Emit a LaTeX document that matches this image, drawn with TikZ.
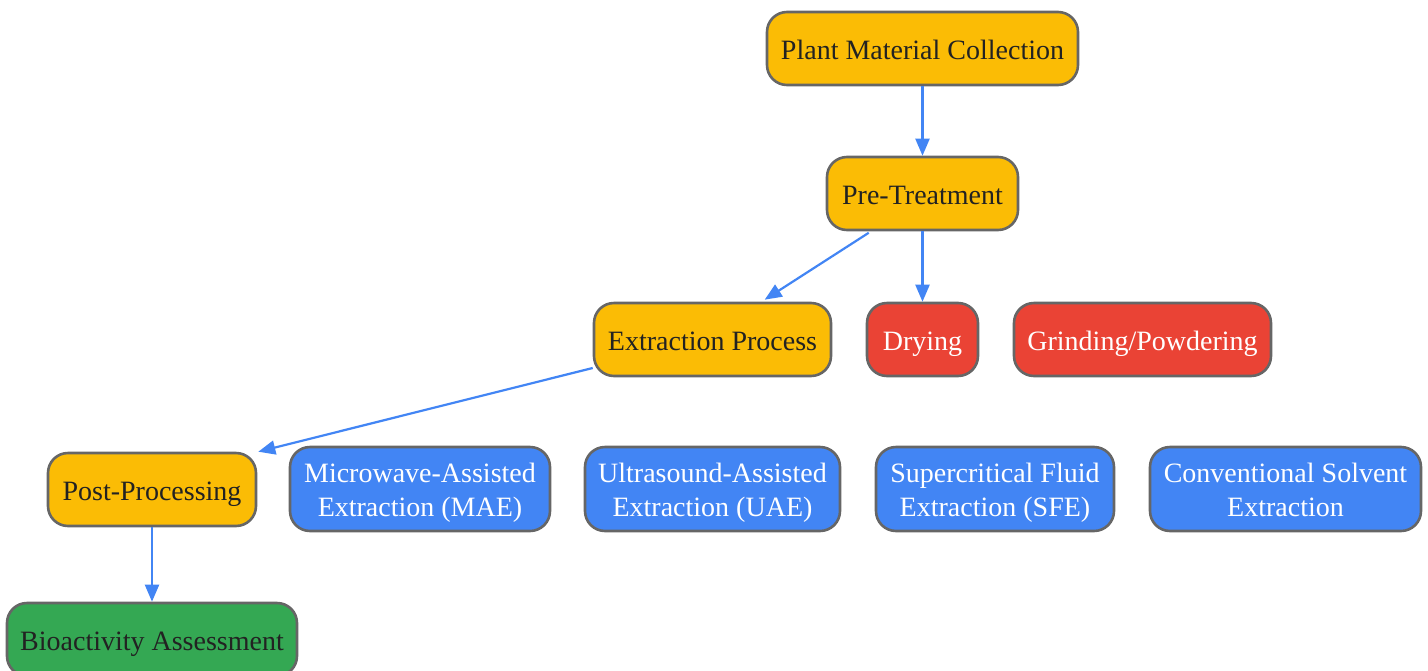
\documentclass[tikz,border=0pt]{standalone}
\usepackage{fontspec}
\setmainfont{Liberation Serif}
\usetikzlibrary{arrows.meta}
\definecolor{cyel}{HTML}{FBBC05}
\definecolor{cred}{HTML}{EA4335}
\definecolor{cblue}{HTML}{4285F4}
\definecolor{cgreen}{HTML}{34A853}
\definecolor{cborder}{HTML}{666666}
\definecolor{ctext}{HTML}{222222}
\tikzset{
  box/.style={draw=cborder, line width=2.6pt, rounded corners=20pt, inner sep=0pt, align=center,
    font=\fontsize{28}{33.5}\selectfont, minimum height=73pt, text height=24pt, text depth=3pt},
  yel/.style={box, fill=cyel, text=ctext},
  red/.style={box, fill=cred, text=white},
  blu/.style={box, fill=cblue, text=white, minimum height=84pt, text height=57.5pt},
  grn/.style={box, fill=cgreen, text=ctext},
  arr/.style={draw=cblue, line width=2.2pt, -{Triangle[length=17pt,width=14pt]}}
}
\begin{document}
\begin{tikzpicture}[x=1pt,y=-1pt]
\useasboundingbox (0,0) rectangle (1428,670);
\node[yel, minimum width=311pt] (plant) at (922.5,48.5) {Plant Material Collection};
\node[yel, minimum width=191pt] (pre) at (922.5,193.5) {Pre-Treatment};
\node[yel, minimum width=237pt] (ext) at (712.5,339.5) {Extraction Process};
\node[red, minimum width=111pt] (dry) at (922.5,339.5) {Drying};
\node[red, minimum width=257pt] (grind) at (1142.5,339.5) {Grinding/Powdering};
\node[yel, minimum width=208pt] (post) at (152,489.5) {Post-Processing};
\node[blu, minimum width=260pt] (mae) at (420,489) {Microwave-Assisted\\Extraction (MAE)};
\node[blu, minimum width=255pt] (uae) at (712.5,489) {Ultrasound-Assisted\\Extraction (UAE)};
\node[blu, minimum width=238pt] (sfe) at (995,489) {Supercritical Fluid\\Extraction (SFE)};
\node[blu, minimum width=271pt] (conv) at (1285.5,489) {Conventional Solvent\\Extraction};
\node[grn, minimum width=290pt] (bio) at (152,639.5) {Bioactivity Assessment};
\draw[arr] (plant.south) -- (pre.north);
\draw[arr] ([xshift=43pt,yshift=-1.5pt]pre.south west) -- ([xshift=172pt,yshift=2pt]ext.north west);
\draw[arr] (pre.south) -- (dry.north);
\draw[arr] ([yshift=-28.5pt]ext.west) -- ([xshift=1pt]post.north east);
\draw[arr] (post.south) -- (bio.north);
\end{tikzpicture}
\end{document}
